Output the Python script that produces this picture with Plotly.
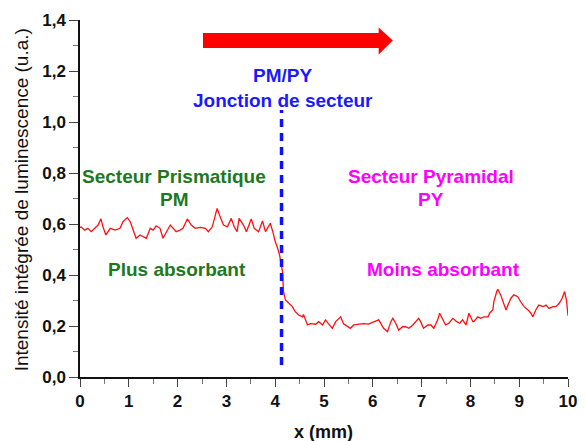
import plotly.graph_objects as go

# Position x (mm) and integrated luminescence intensity (a.u.)
x_mm = [0.00, 0.02, 0.10, 0.16, 0.23, 0.31, 0.37, 0.43, 0.47, 0.53, 0.62, 0.72, 0.82, 0.88, 0.97,
        1.03, 1.09, 1.15, 1.23, 1.29, 1.36, 1.44, 1.50, 1.56, 1.64, 1.70, 1.77, 1.85, 1.91, 1.97,
        2.05, 2.11, 2.20, 2.28, 2.36, 2.46, 2.57, 2.63, 2.71, 2.77, 2.81, 2.87, 2.94, 3.02, 3.10,
        3.16, 3.22, 3.26, 3.35, 3.41, 3.51, 3.57, 3.66, 3.74, 3.80, 3.84, 3.90, 3.96, 4.00, 4.05,
        4.09, 4.15, 4.17, 4.21, 4.27, 4.35, 4.41, 4.48, 4.56, 4.58, 4.66, 4.72, 4.83, 4.89, 4.97,
        5.03, 5.09, 5.17, 5.24, 5.34, 5.40, 5.48, 5.54, 5.61, 5.71, 5.81, 5.91, 6.02, 6.12, 6.16,
        6.22, 6.30, 6.37, 6.41, 6.47, 6.53, 6.61, 6.67, 6.74, 6.82, 6.88, 6.94, 6.98, 7.04, 7.13,
        7.19, 7.25, 7.33, 7.37, 7.43, 7.49, 7.56, 7.64, 7.72, 7.78, 7.84, 7.91, 7.97, 8.05, 8.07,
        8.15, 8.21, 8.28, 8.36, 8.40, 8.46, 8.48, 8.54, 8.56, 8.62, 8.69, 8.73, 8.77, 8.83, 8.89,
        8.97, 9.03, 9.10, 9.18, 9.24, 9.28, 9.34, 9.40, 9.49, 9.55, 9.61, 9.69, 9.75, 9.82, 9.88,
        9.93, 9.97, 10.00]
intensity = [0.585, 0.589, 0.576, 0.583, 0.570, 0.583, 0.596, 0.620, 0.589, 0.557, 0.583, 0.576, 0.583, 0.609, 0.625,
             0.609, 0.576, 0.544, 0.557, 0.550, 0.544, 0.583, 0.576, 0.593, 0.583, 0.544, 0.570, 0.596, 0.583, 0.570,
             0.576, 0.583, 0.620, 0.596, 0.583, 0.587, 0.583, 0.570, 0.589, 0.635, 0.661, 0.629, 0.596, 0.589, 0.622,
             0.589, 0.570, 0.622, 0.596, 0.570, 0.620, 0.583, 0.570, 0.612, 0.570, 0.583, 0.603, 0.563, 0.531, 0.505,
             0.478, 0.413, 0.335, 0.302, 0.289, 0.276, 0.256, 0.243, 0.236, 0.245, 0.204, 0.209, 0.207, 0.217, 0.204,
             0.224, 0.209, 0.191, 0.217, 0.236, 0.209, 0.197, 0.191, 0.204, 0.207, 0.209, 0.207, 0.217, 0.224, 0.211,
             0.191, 0.178, 0.217, 0.230, 0.211, 0.184, 0.197, 0.197, 0.191, 0.204, 0.217, 0.230, 0.217, 0.191, 0.204,
             0.204, 0.191, 0.224, 0.250, 0.224, 0.204, 0.211, 0.230, 0.217, 0.211, 0.224, 0.204, 0.250, 0.217, 0.217,
             0.236, 0.230, 0.236, 0.236, 0.252, 0.263, 0.295, 0.335, 0.344, 0.322, 0.289, 0.263, 0.282, 0.309, 0.322,
             0.315, 0.295, 0.276, 0.263, 0.250, 0.236, 0.263, 0.282, 0.276, 0.282, 0.269, 0.276, 0.276, 0.289, 0.309,
             0.335, 0.300, 0.240]

x_ticks = [0, 1, 2, 3, 4, 5, 6, 7, 8, 9, 10]
x_tick_labels = ["0", "1", "2", "3", "4", "5", "6", "7", "8", "9", "10"]
y_ticks = [0.0, 0.2, 0.4, 0.6, 0.8, 1.0, 1.2, 1.4]
y_tick_labels = ["0,0", "0,2", "0,4", "0,6", "0,8", "1,0", "1,2", "1,4"]

junction_x = 4.13
junction_y = [0.047, 1.047]

GREEN = "#1e781e"
BLUE = "#1a1aff"
MAGENTA = "#ff00ff"
FONT = "Liberation Sans, Arial, sans-serif"

fig = go.Figure()
fig.add_trace(go.Scatter(x=x_mm, y=intensity, mode="lines",
                         line=dict(color="#ff1010", width=1.3), showlegend=False))

fig.add_shape(type="line", x0=junction_x, x1=junction_x, y0=junction_y[0], y1=junction_y[1],
              xref="x", yref="y", line=dict(color="#1010ff", width=3.5, dash="8px,6px"))

# Red arrow (decoration)
ax0, ax1, ax2 = 2.52, 6.12, 6.41
ys_top, ys_bot, yh_top, yh_bot, y_mid = 1.349, 1.290, 1.371, 1.265, 1.320
fig.add_shape(type="path", xref="x", yref="y",
              path=f"M {ax0} {ys_bot} L {ax1} {ys_bot} L {ax1} {yh_bot} L {ax2} {y_mid} "
                   f"L {ax1} {yh_top} L {ax1} {ys_top} L {ax0} {ys_top} Z",
              fillcolor="#ff0000", line=dict(width=0))

def label(text, x, y, color):
    fig.add_annotation(x=x, y=y, xref="x", yref="y", text=f"<b>{text}</b>", showarrow=False,
                       font=dict(family=FONT, size=19, color=color), xanchor="center", yanchor="middle")

label("Secteur Prismatique", 1.93, 0.788, GREEN)
label("PM", 1.93, 0.698, GREEN)
label("Plus absorbant", 1.99, 0.420, GREEN)
label("PM/PY", 4.15, 1.184, BLUE)
label("Jonction de secteur", 4.15, 1.086, BLUE)
label("Secteur Pyramidal", 7.19, 0.788, MAGENTA)
label("PY", 7.19, 0.698, MAGENTA)
label("Moins absorbant", 7.45, 0.420, MAGENTA)

fig.add_annotation(x=-0.12, y=0.496, xref="paper", yref="paper", textangle=-90,
                   text="Intensité intégrée de luminescence (u.a.)", showarrow=False,
                   font=dict(family=FONT, size=19, color="#111"), xanchor="center", yanchor="middle")
fig.add_annotation(x=0.498, y=-0.154, xref="paper", yref="paper",
                   text="<b>x (mm)</b>", showarrow=False,
                   font=dict(family=FONT, size=18, color="#111"), xanchor="center", yanchor="middle")

fig.update_layout(
    width=586, height=441,
    margin=dict(l=80, r=18, t=20, b=64),
    paper_bgcolor="white", plot_bgcolor="white",
    font=dict(family=FONT, size=17, color="#111"),
    xaxis=dict(range=[0, 10], tickvals=x_ticks, ticktext=x_tick_labels,
               tickfont=dict(family=FONT, size=17, color="#111", weight="bold"),
               showgrid=False, zeroline=False, showline=True, linecolor="#111", linewidth=1.5,
               ticks="outside", ticklen=8, tickcolor="#444", tickwidth=1,
               minor=dict(dtick=0.5, ticks="outside", ticklen=5, tickcolor="#777"),
               automargin=False),
    yaxis=dict(range=[0, 1.4], tickvals=y_ticks, ticktext=y_tick_labels,
               tickfont=dict(family=FONT, size=17, color="#111", weight="bold"),
               showgrid=False, zeroline=False, showline=True, linecolor="#111", linewidth=1.5,
               ticks="outside", ticklen=9, tickcolor="#444", tickwidth=1,
               minor=dict(dtick=0.1, ticks="outside", ticklen=5, tickcolor="#777"),
               automargin=False),
)

fig.write_html("out.html", config={"displayModeBar": False})

# Remove the browser's default 8px body margin so the figure sits at the page origin
with open("out.html", encoding="utf-8") as f:
    html = f.read()
html = html.replace("<head>", "<head><style>html,body{margin:0;padding:0;overflow:hidden}</style>", 1)
with open("out.html", "w", encoding="utf-8") as f:
    f.write(html)
